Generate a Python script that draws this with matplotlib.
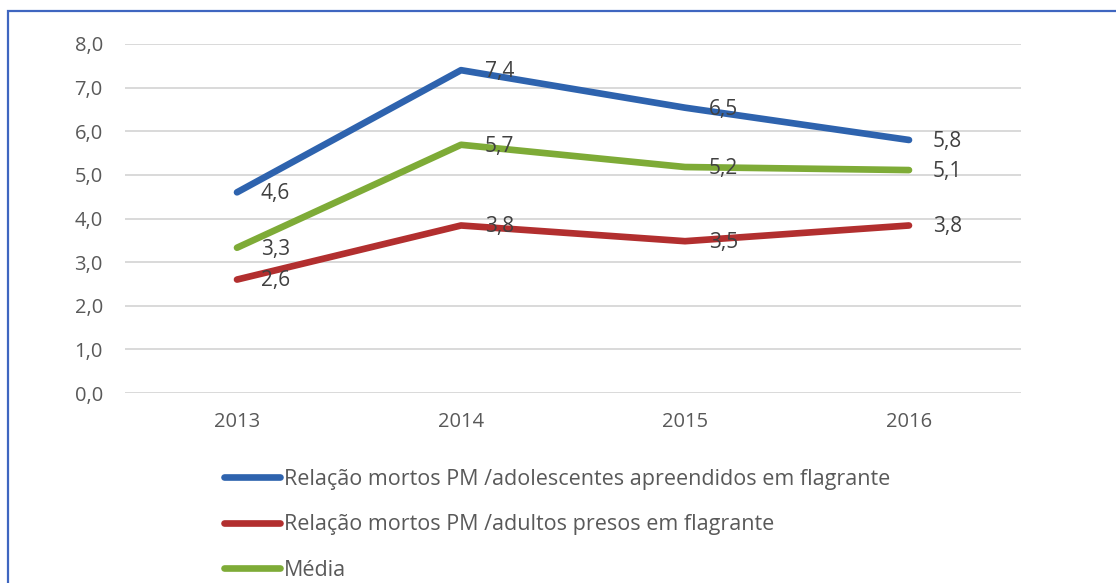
import matplotlib.pyplot as plt
from matplotlib.patches import Rectangle

plt.rcParams['font.family'] = ['Open Sans', 'DejaVu Sans']

# dados
anos = ['2013', '2014', '2015', '2016']
adolescentes = [4.6, 7.4, 6.54, 5.8]
adultos = [2.6, 3.84, 3.48, 3.84]
media = [3.33, 5.69, 5.18, 5.11]
nomes = ['Relação mortos PM /adolescentes apreendidos em flagrante',
         'Relação mortos PM /adultos presos em flagrante',
         'Média']
cores = ['#2E63AE', '#B22F2F', '#7EAB37']

fig = plt.figure(figsize=(11.16, 5.83), dpi=100)
ax = fig.add_axes([125/1116, 1-393/583, (1021-125)/1116, (393-44)/583])

x = range(len(anos))
for serie, nome, cor in zip([adolescentes, adultos, media], nomes, cores):
    ax.plot(x, serie, color=cor, lw=4.8, solid_capstyle='round', label=nome)
    for xi, v in zip(x, serie):
        ax.annotate(f'{v:.1f}'.replace('.', ','), (xi, v), xytext=(17, -1),
                    textcoords='offset points', ha='left', va='center',
                    fontsize=15, color='#404040')

ax.set_xlim(-0.5, 3.5)
ax.set_ylim(0, 8)
ax.set_yticks(range(0, 9))
ax.set_yticklabels([f'{i},0' for i in range(0, 9)])
ax.set_xticks(list(x))
ax.set_xticklabels(anos)
ax.tick_params(length=0, labelsize=14.5, labelcolor='#595959')
ax.tick_params(axis='y', pad=16)
ax.tick_params(axis='x', pad=14)
ax.grid(axis='y', color='#D9D9D9', lw=1.4)
ax.set_axisbelow(True)
for s in ax.spines.values():
    s.set_visible(False)

fig.legend(loc='upper left', bbox_to_anchor=(224/1116, 1-469/583), frameon=False,
           fontsize=15.5, labelcolor='#595959', handlelength=2.6, handletextpad=0.2,
           labelspacing=1.13, borderaxespad=0, borderpad=0)

fig.patches.append(Rectangle((8/1116, -0.2), 1.2, 1-11/583+0.2, transform=fig.transFigure,
                             fill=False, edgecolor='#3F66C0', lw=1.6, clip_on=False))

fig.savefig('out.png', dpi=100)
